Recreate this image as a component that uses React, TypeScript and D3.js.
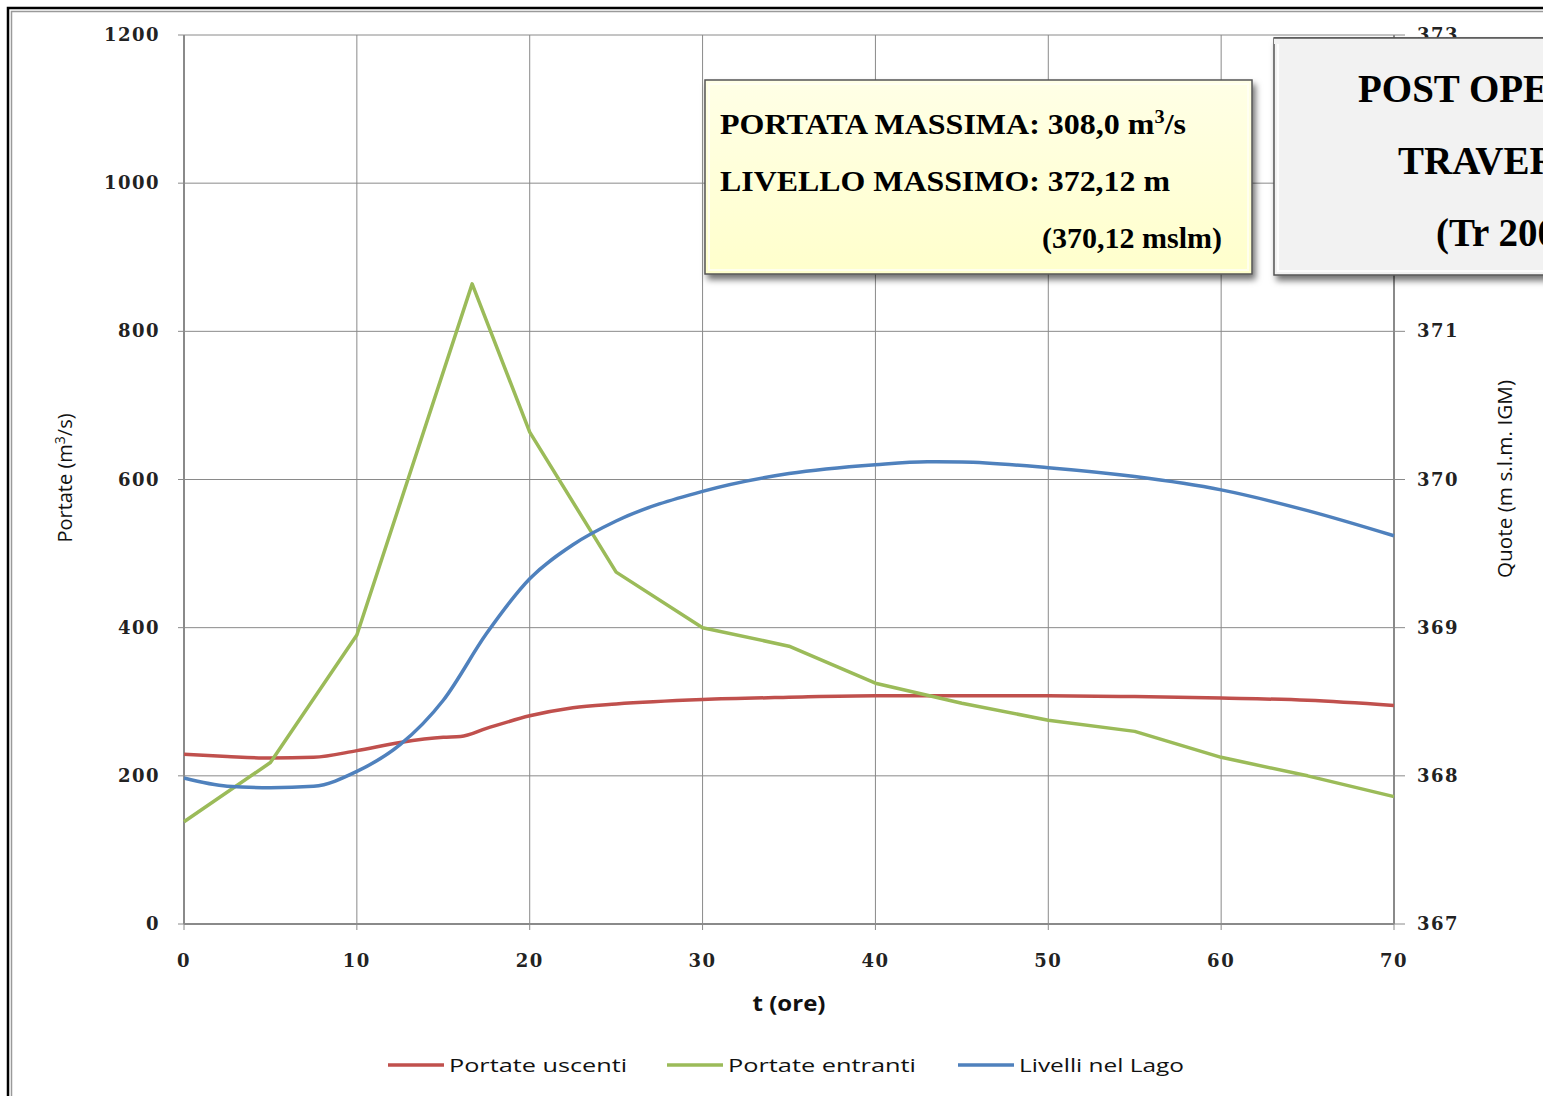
import React from "react";
import * as d3 from "d3";

const xTicks = [0, 10, 20, 30, 40, 50, 60, 70];
const leftTicks = [0, 200, 400, 600, 800, 1000, 1200];
const rightTicks = [367, 368, 369, 370, 371, 373];

const outflowT = [0, 2.5, 5, 7.5, 10, 12.5, 15, 16, 17.5, 20, 22.5, 25, 30, 35, 40, 45, 50, 55, 60, 65, 70];
const outflowQ = [229, 226, 224, 225, 234, 245, 252, 253, 264, 281, 292, 297, 303, 306, 308, 308, 308, 307, 305, 302, 295];

const inflowT = [0, 5, 10, 16.67, 20, 25, 30, 35, 40, 45, 50, 55, 60, 65, 70];
const inflowQ = [138, 218, 390, 864, 664, 475, 400, 375, 325, 298, 275, 260, 225, 200, 172];

const levelT = [0, 2.5, 5, 7.5, 10, 12.5, 15, 17.5, 20, 22.5, 25, 30, 35, 40, 43, 45, 50, 55, 60, 65, 70];
const levelH = [367.985, 367.93, 367.92, 367.93, 368.03, 368.21, 368.51, 368.96, 369.33, 369.56, 369.72, 369.92, 370.04, 370.1, 370.12, 370.118, 370.08, 370.02, 369.93, 369.79, 369.62];

const seriesNames = ["Portate uscenti", "Portate entranti", "Livelli nel Lago"];
const seriesColors = ["#C0504D", "#9BBB59", "#4F81BD"];

export default function App() {
  const W = 1543, H = 1096;
  const x = d3.scaleLinear().domain([0, 70]).range([184, 1394]);
  const yL = d3.scaleLinear().domain([0, 1200]).range([924, 35]);
  const yR = d3.scaleLinear().domain([367, 373]).range([924, 35]);

  const lineRed = d3.line<number>().x((_, i) => x(outflowT[i])).y((d) => yL(d)).curve(d3.curveMonotoneX);
  const lineGreen = d3.line<number>().x((_, i) => x(inflowT[i])).y((d) => yL(d));
  const lineBlue = d3.line<number>().x((_, i) => x(levelT[i])).y((d) => yR(d)).curve(d3.curveMonotoneX);

  const tickFont = { fontFamily: "DejaVu Serif", fontWeight: 700, fontSize: 18, fill: "#222", letterSpacing: 1.5 } as any;
  const grid = "#8a8a8a";

  const legendX = [388, 667, 958];
  const legendTextW = [178, 188, 165];

  return (
    <svg width={W} height={H} style={{ position: "absolute", left: 0, top: 0, background: "#fff" }}>
      <defs>
        <filter id="shadow" x="-10%" y="-10%" width="130%" height="140%">
          <feDropShadow dx="3" dy="5" stdDeviation="3" floodColor="#000" floodOpacity="0.55" />
        </filter>
        <linearGradient id="bevelY" x1="0" y1="0" x2="0" y2="1">
          <stop offset="0" stopColor="#ffffe6" />
          <stop offset="1" stopColor="#ffffcc" />
        </linearGradient>
      </defs>
      <rect x={0} y={0} width={W} height={H} fill="#fff" />
      {/* outer frame */}
      <rect x={8} y={8} width={W + 20} height={H + 20} fill="none" stroke="#000" strokeWidth={2.5} />
      <rect x={11.5} y={11.5} width={W + 20} height={H + 20} fill="none" stroke="#9a9a9a" strokeWidth={1.5} />

      {/* grid */}
      {leftTicks.map((t) => (
        <line key={"h" + t} x1={178} x2={1394} y1={yL(t)} y2={yL(t)} stroke={grid} strokeWidth={1} />
      ))}
      {xTicks.map((t) => (
        <line key={"v" + t} x1={x(t)} x2={x(t)} y1={35} y2={930} stroke={grid} strokeWidth={1} />
      ))}
      {rightTicks.map((t) => (
        <line key={"r" + t} x1={1394} x2={1405} y1={yR(t)} y2={yR(t)} stroke={grid} strokeWidth={1} />
      ))}
      <line x1={184} x2={184} y1={35} y2={924} stroke={grid} strokeWidth={2} />
      <line x1={184} x2={1394} y1={924} y2={924} stroke={grid} strokeWidth={2} />
      <line x1={1394} x2={1394} y1={35} y2={924} stroke={grid} strokeWidth={2} />

      {/* tick labels */}
      {leftTicks.map((t) => (
        <text key={"lt" + t} x={160} y={yL(t) + 6} textAnchor="end" style={tickFont}>{t}</text>
      ))}
      {rightTicks.map((t) => (
        <text key={"rt" + t} x={1417} y={yR(t) + 6} textAnchor="start" style={tickFont}>{t}</text>
      ))}
      {xTicks.map((t) => (
        <text key={"xt" + t} x={x(t)} y={967} textAnchor="middle" style={tickFont}>{t}</text>
      ))}

      {/* axis titles */}
      <text x={789} y={1011} textAnchor="middle" textLength={73} lengthAdjust="spacingAndGlyphs"
        style={{ fontFamily: "Open Sans", fontWeight: 700, fontSize: 21, fill: "#111" }}>t (ore)</text>
      <text transform="translate(72,478) rotate(-90)" textAnchor="middle" style={{ fontFamily: "Open Sans", fontSize: 20, fill: "#111" }}>
        Portate (m<tspan dy={-7} fontSize={14}>3</tspan><tspan dy={7}>/s)</tspan>
      </text>
      <text transform="translate(1512,479) rotate(-90)" textAnchor="middle" textLength={198} lengthAdjust="spacingAndGlyphs"
        style={{ fontFamily: "Open Sans", fontSize: 20, fill: "#111" }}>
        Quote (m s.l.m. IGM)
      </text>

      {/* series */}
      <path d={lineRed(outflowQ) || ""} fill="none" stroke={seriesColors[0]} strokeWidth={3.5} />
      <path d={lineGreen(inflowQ) || ""} fill="none" stroke={seriesColors[1]} strokeWidth={3.5} strokeLinejoin="round" />
      <path d={lineBlue(levelH) || ""} fill="none" stroke={seriesColors[2]} strokeWidth={3.5} />

      {/* yellow info box */}
      <g filter="url(#shadow)">
        <rect x={705} y={80} width={547} height={194} fill="url(#bevelY)" stroke="#555" strokeWidth={1.5} />
      </g>
      <rect x={709} y={84} width={539} height={186} fill="none" stroke="#fffff5" strokeWidth={2} opacity={0.8} />
      <g style={{ fontFamily: "Liberation Serif", fontWeight: 700, fontSize: 30, fill: "#000" }}>
        <text x={720} y={134} textLength={466} lengthAdjust="spacingAndGlyphs">PORTATA MASSIMA: 308,0 m<tspan dy={-11} fontSize={19}>3</tspan><tspan dy={11}>/s</tspan></text>
        <text x={720} y={191} textLength={450} lengthAdjust="spacingAndGlyphs">LIVELLO MASSIMO: 372,12 m</text>
        <text x={1222} y={248} textAnchor="end">(370,12 mslm)</text>
      </g>

      {/* grey title box */}
      <g filter="url(#shadow)">
        <rect x={1274} y={38} width={320} height={237} fill="#f2f2f2" stroke="#555" strokeWidth={1.5} />
      </g>
      <rect x={1278} y={42} width={312} height={229} fill="none" stroke="#fdfdfd" strokeWidth={2} />
      <g style={{ fontFamily: "Liberation Serif", fontWeight: 700, fontSize: 39, fill: "#000" }}>
        <text x={1358} y={102}>POST OPERAM</text>
        <text x={1398} y={174}>TRAVERSA</text>
        <text x={1436} y={246}>(Tr 200)</text>
      </g>
      <rect x={1274} y={38} width={320} height={6} fill="#f2f2f2" />
      <line x1={1274} x2={1543} y1={38} y2={38} stroke="#555" strokeWidth={1.5} />

      {/* legend */}
      {seriesNames.map((n, i) => (
        <g key={n}>
          <line x1={legendX[i]} x2={legendX[i] + 56} y1={1065} y2={1065} stroke={seriesColors[i]} strokeWidth={3.5} />
          <text x={legendX[i] + 61} y={1072} textLength={legendTextW[i]} lengthAdjust="spacingAndGlyphs"
            style={{ fontFamily: "Open Sans", fontSize: 19, fill: "#111" }}>{n}</text>
        </g>
      ))}
    </svg>
  );
}
